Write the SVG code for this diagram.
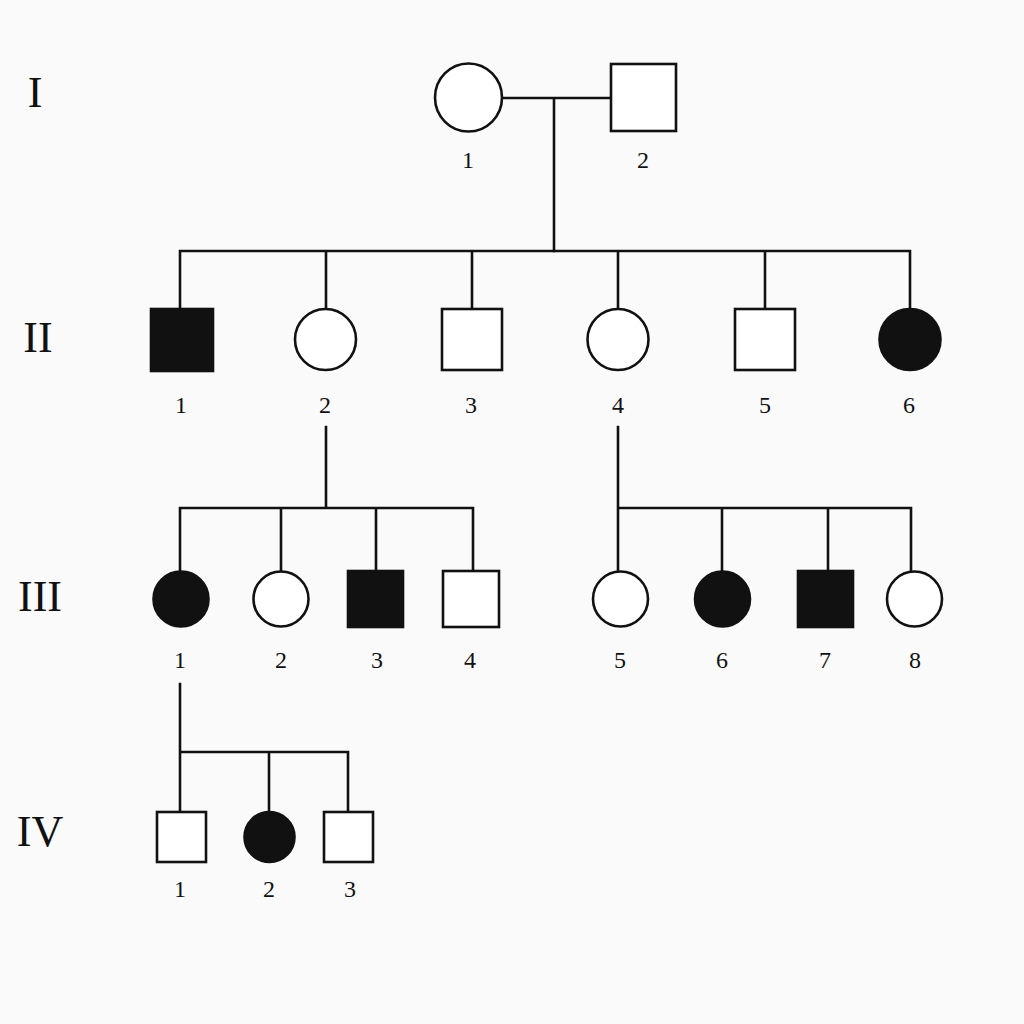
<svg xmlns="http://www.w3.org/2000/svg" width="1024" height="1024" viewBox="0 0 1024 1024">
<style>
.ln{stroke:#111;stroke-width:2.6;fill:none;stroke-linecap:square}
.open{fill:#fff;stroke:#111;stroke-width:2.6}
.aff{fill:#111;stroke:#111;stroke-width:2.6}
.num{font-family:"Liberation Serif","Times New Roman",serif;font-size:24px;fill:#111;text-anchor:middle}
.gen{font-family:"Liberation Serif","Times New Roman",serif;font-size:44px;fill:#111;text-anchor:middle}
</style>
<rect width="1024" height="1024" fill="#fafafa"/>
<g id="generation-labels">
<text class="gen" x="35" y="107">I</text>
<text class="gen" x="38" y="352">II</text>
<text class="gen" x="40" y="611">III</text>
<text class="gen" x="40" y="846">IV</text>
</g>
<g id="connectors">
<path class="ln" d="M502 98H610 M554 98V251"/>
<path class="ln" d="M180 251H910 M180 251V308 M326 251V308 M472 251V308 M618 251V308 M765 251V308 M910 251V308"/>
<path class="ln" d="M326 427V508 M180 508H473 M180 508V571 M281 508V571 M376 508V571 M473 508V571"/>
<path class="ln" d="M618 427V508H911 M618 508V571 M722 508V571 M828 508V571 M911 508V571"/>
<path class="ln" d="M180 684V812 M180 752H348 M269 752V812 M348 752V812"/>
</g>
<g id="I-1"><ellipse class="open" cx="468.5" cy="97.5" rx="33.5" ry="34"/><text class="num" x="468" y="168">1</text></g>
<g id="I-2"><rect class="open" x="611" y="64" width="65" height="67"/><text class="num" x="643" y="168">2</text></g>
<g id="II-1"><rect class="aff" x="151" y="309" width="62" height="62"/><text class="num" x="181" y="413">1</text></g>
<g id="II-2"><circle class="open" cx="325.5" cy="339.5" r="30.5"/><text class="num" x="325" y="413">2</text></g>
<g id="II-3"><rect class="open" x="442" y="309" width="60" height="61"/><text class="num" x="471" y="413">3</text></g>
<g id="II-4"><circle class="open" cx="618" cy="339.5" r="30.5"/><text class="num" x="618" y="413">4</text></g>
<g id="II-5"><rect class="open" x="735" y="309" width="60" height="61"/><text class="num" x="765" y="413">5</text></g>
<g id="II-6"><circle class="aff" cx="910" cy="339.5" r="30.5"/><text class="num" x="909" y="413">6</text></g>
<g id="III-1"><circle class="aff" cx="181" cy="599" r="27.5"/><text class="num" x="180" y="668">1</text></g>
<g id="III-2"><circle class="open" cx="281" cy="599" r="27.5"/><text class="num" x="281" y="668">2</text></g>
<g id="III-3"><rect class="aff" x="348" y="571" width="55" height="56"/><text class="num" x="377" y="668">3</text></g>
<g id="III-4"><rect class="open" x="443" y="571" width="56" height="56"/><text class="num" x="470" y="668">4</text></g>
<g id="III-5"><circle class="open" cx="620.5" cy="599" r="27.5"/><text class="num" x="620" y="668">5</text></g>
<g id="III-6"><circle class="aff" cx="722.5" cy="599" r="27.5"/><text class="num" x="722" y="668">6</text></g>
<g id="III-7"><rect class="aff" x="798" y="571" width="55" height="56"/><text class="num" x="825" y="668">7</text></g>
<g id="III-8"><circle class="open" cx="914.5" cy="599" r="27.5"/><text class="num" x="915" y="668">8</text></g>
<g id="IV-1"><rect class="open" x="157" y="812" width="49" height="50"/><text class="num" x="180" y="897">1</text></g>
<g id="IV-2"><circle class="aff" cx="269.5" cy="837" r="25"/><text class="num" x="269" y="897">2</text></g>
<g id="IV-3"><rect class="open" x="324" y="812" width="49" height="50"/><text class="num" x="350" y="897">3</text></g>
</svg>
